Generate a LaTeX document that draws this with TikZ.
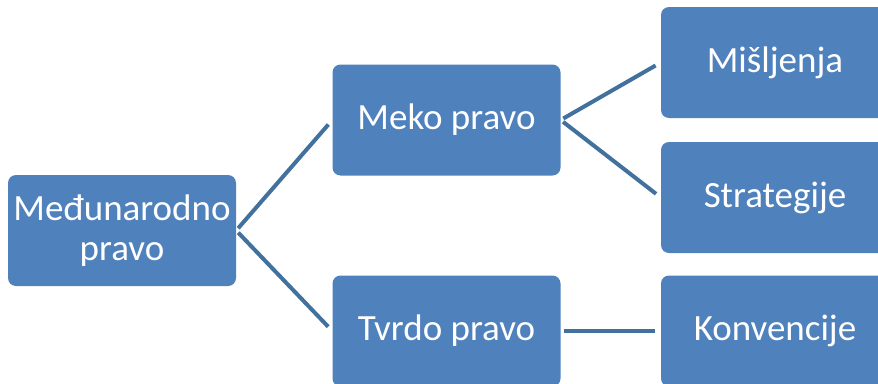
\documentclass[tikz,border=0pt]{standalone}
\usepackage{fontspec}
\setmainfont{Carlito}
\usetikzlibrary{calc}
\definecolor{boxblue}{HTML}{4F81BD}
\definecolor{lineblue}{HTML}{41719C}

\begin{document}
\begin{tikzpicture}[x=1pt, y=-1pt,
box/.style={fill=boxblue, rounded corners=8pt, minimum width=228pt, minimum height=111pt, inner sep=0pt, align=center, text=white, font=\fontsize{37}{40}\selectfont},
link/.style={draw=lineblue, line width=4pt, shorten <=3pt, shorten >=6pt}]
\useasboundingbox (0,0) rectangle (878,383);
\clip (0,0) rectangle (878,383);
\node [box] (med) at (122,230.5) {Međunarodno\\pravo};
\node [box] (meko) at (446.5,120) {Meko pravo};
\node [box] (tvrdo) at (446.5,331) {Tvrdo pravo};
\node [box] (misl) at (775,62.5) {Mišljenja};
\node [box] (strat) at (775,197.5) {Strategije};
\node [box] (konv) at (775,331) {Konvencije};
\draw [link] (med.east) -- (meko.west);
\draw [link] (med.east) -- (tvrdo.west);
\draw [link] (meko.east) -- (misl.west);
\draw [link] (meko.east) -- (strat.west);
\draw [link] (tvrdo.east) -- (konv.west);
\end{tikzpicture}
\end{document}
